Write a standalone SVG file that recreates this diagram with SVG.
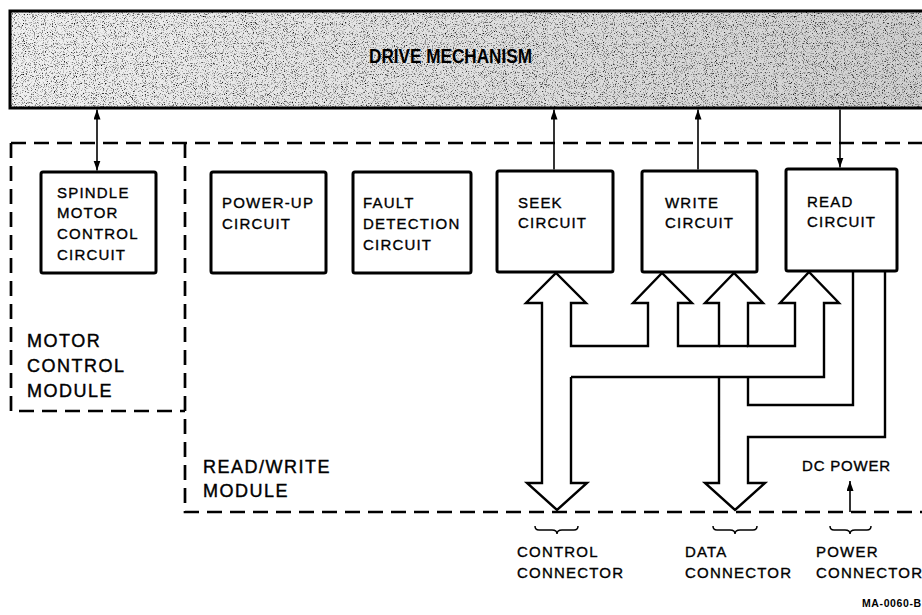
<svg xmlns="http://www.w3.org/2000/svg" width="922" height="615" viewBox="0 0 922 615">
<defs>
<style>
.box{fill:#fff;stroke:#000;stroke-width:3}
.t{font-family:"Liberation Sans",Arial,sans-serif;font-size:15px;letter-spacing:1.2px;fill:#000;stroke:#000;stroke-width:0.35px}
.m{font-family:"Liberation Sans",Arial,sans-serif;font-size:18px;letter-spacing:1.5px;fill:#000;stroke:#000;stroke-width:0.4px}
.dash{fill:none;stroke:#000;stroke-width:2.7;stroke-dasharray:15 8}
.bus{fill:none;stroke:#000;stroke-width:2.4;stroke-linejoin:miter;stroke-miterlimit:10}
.sig{fill:none;stroke:#000;stroke-width:1.6}
.brace{fill:none;stroke:#000;stroke-width:1.5}
</style>
<marker id="ah" markerUnits="userSpaceOnUse" markerWidth="10" markerHeight="8" refX="10" refY="3.5" orient="auto-start-reverse">
<path d="M0,0 L10,3.5 L0,7 z" fill="#000"/>
</marker>
<filter id="grain" x="0" y="0" width="1" height="1">
<feTurbulence type="fractalNoise" baseFrequency="0.9" numOctaves="3" seed="7"/>
<feColorMatrix type="matrix" values="0 0 0 0 0  0 0 0 0 0  0 0 0 0 0  3 0 0 0 -1.6"/>
</filter>
<linearGradient id="shade" x1="0" y1="0" x2="1" y2="0">
<stop offset="0" stop-color="#f0f0f0"/>
<stop offset="1" stop-color="#cfcfcf"/>
</linearGradient>
</defs>

<g id="drive-mechanism">
<rect x="10" y="11" width="930" height="97" fill="url(#shade)"/>
<rect x="10" y="11" width="930" height="97" fill="#000" filter="url(#grain)"/>
<rect x="10" y="11" width="930" height="97" fill="none" stroke="#000" stroke-width="3"/>
<text x="369" y="63" font-family="Liberation Sans,Arial,sans-serif" font-weight="bold" font-size="20" textLength="163" lengthAdjust="spacingAndGlyphs">DRIVE MECHANISM</text>
</g>

<g id="motor-control-module">
<path class="dash" d="M11,143 L922,143"/>
<path class="dash" d="M11,143 L11,411 L185,411"/>
<text class="m" x="27" y="347">MOTOR</text>
<text class="m" x="27" y="372">CONTROL</text>
<text class="m" x="27" y="397">MODULE</text>
</g>

<g id="read-write-module">
<path class="dash" d="M185,143 L185,512 L922,512"/>
<text class="m" x="203" y="473">READ/WRITE</text>
<text class="m" x="203" y="497">MODULE</text>
</g>

<g id="spindle-motor-control-circuit">
<rect class="box" x="41" y="172" width="115" height="101" rx="2"/>
<text class="t" x="57" y="198">SPINDLE</text>
<text class="t" x="57" y="218">MOTOR</text>
<text class="t" x="57" y="239">CONTROL</text>
<text class="t" x="57" y="260">CIRCUIT</text>
</g>

<g id="power-up-circuit">
<rect class="box" x="211" y="172" width="115" height="101" rx="2"/>
<text class="t" x="222" y="208">POWER-UP</text>
<text class="t" x="222" y="229">CIRCUIT</text>
</g>

<g id="fault-detection-circuit">
<rect class="box" x="353" y="172" width="118" height="101" rx="2"/>
<text class="t" x="363" y="208">FAULT</text>
<text class="t" x="363" y="229">DETECTION</text>
<text class="t" x="363" y="250">CIRCUIT</text>
</g>

<g id="seek-circuit">
<rect class="box" x="497" y="171" width="116" height="101" rx="2"/>
<text class="t" x="518" y="208">SEEK</text>
<text class="t" x="518" y="228">CIRCUIT</text>
</g>

<g id="write-circuit">
<rect class="box" x="642" y="171" width="115" height="101" rx="2"/>
<text class="t" x="665" y="208">WRITE</text>
<text class="t" x="665" y="228">CIRCUIT</text>
</g>

<g id="read-circuit">
<rect class="box" x="786" y="169" width="111" height="102" rx="2"/>
<text class="t" x="807" y="207">READ</text>
<text class="t" x="807" y="227">CIRCUIT</text>
</g>

<g id="connectors">
<line class="sig" x1="97" y1="109.5" x2="97" y2="170.5" marker-start="url(#ah)" marker-end="url(#ah)"/>
<line class="sig" x1="554" y1="169.5" x2="554" y2="109.5" marker-end="url(#ah)"/>
<line class="sig" x1="698" y1="169.5" x2="698" y2="109.5" marker-end="url(#ah)"/>
<line class="sig" x1="840" y1="109.5" x2="840" y2="167.5" marker-end="url(#ah)"/>
<line class="sig" x1="850" y1="512" x2="850" y2="481" marker-end="url(#ah)"/>

<path class="bus" d="M571,377 L571,483 L587,483 L557,510 L527,483 L542,483 L542,303 L526,303 L556,273 L586,303 L571,303 L571,346 L648,346 L648,303 L633,303 L662,273 L692,303 L678,303 L678,346 L719,346 L719,303 L705,303 L734,273 L763,303 L748,303 L748,346 L795,346 L795,303 L780,303 L809,272 L839,303 L824,303 L824,377 L571,377"/>
<path class="bus" d="M719,346 L748,346"/>
<path class="bus" d="M719,377 L719,483 L705,483 L735,510 L765,483 L748,483 L748,437 L885,437 L885,271"/>
<path class="bus" d="M748,377 L748,405 L853,405 L853,271"/>

<path class="brace" d="M535,526 q0,4 4,4 h13 q5,0 5,4 q0,-4 5,-4 h12 q4,0 4,-4"/>
<path class="brace" d="M713,526 q0,4 4,4 h13 q5,0 5,4 q0,-4 5,-4 h13 q4,0 4,-4"/>
<path class="brace" d="M830,526 q0,4 4,4 h11 q5,0 5,4 q0,-4 5,-4 h12 q4,0 4,-4"/>
</g>

<g id="labels">
<text class="t" x="802" y="471" style="letter-spacing:0.8px">DC POWER</text>
<text class="t" x="517" y="557">CONTROL</text>
<text class="t" x="517" y="578">CONNECTOR</text>
<text class="t" x="685" y="557">DATA</text>
<text class="t" x="685" y="578">CONNECTOR</text>
<text class="t" x="816" y="557">POWER</text>
<text class="t" x="816" y="578">CONNECTOR</text>
<text x="862" y="607" font-family="Liberation Sans,Arial,sans-serif" font-weight="bold" font-size="10.5" letter-spacing="0.6">MA-0060-B</text>
</g>
</svg>
